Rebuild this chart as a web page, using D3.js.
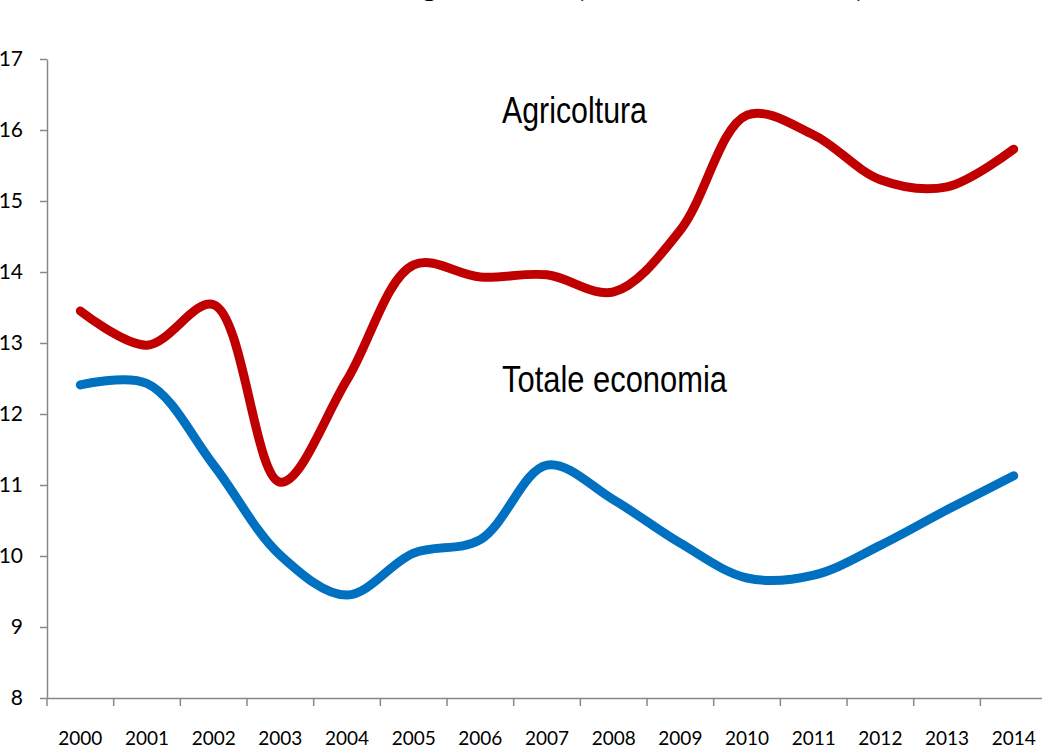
<!DOCTYPE html>
<html>
<head>
<meta charset="utf-8">
<script src="https://cdn.jsdelivr.net/npm/d3@7"></script>
<style>
  body { margin: 0; background: #fff; }
  svg { display: block; }
</style>
</head>
<body>
<div id="chart"></div>
<script>
var years = ["2000","2001","2002","2003","2004","2005","2006","2007","2008","2009","2010","2011","2012","2013","2014"];
var agricoltura = [13.45, 12.97, 13.54, 11.04, 12.48, 14.10, 13.93, 13.96, 13.72, 14.59, 16.21, 15.93, 15.30, 15.20, 15.73];
var totale = [12.41, 12.43, 11.28, 10.01, 9.45, 10.04, 10.23, 11.28, 10.79, 10.18, 9.69, 9.73, 10.15, 10.65, 11.13];
var yTicks = [8, 9, 10, 11, 12, 13, 14, 15, 16, 17];

var width = 1042, height = 750;
var margin = {top: 59, left: 47, bottom: 52};

var svg = d3.select("#chart").append("svg")
    .attr("width", width)
    .attr("height", height);

var x = d3.scaleBand()
    .domain(years)
    .range([margin.left, margin.left + 15 * 66.67]);

var y = d3.scaleLinear()
    .domain([8, 17])
    .range([height - margin.bottom, margin.top]);

// title (only its lower edge is inside the picture)
svg.append("text")
    .attr("x", 404)
    .attr("y", -4)
    .style("font-family", "Lato, sans-serif")
    .style("font-weight", "bold")
    .style("font-size", "32px")
    .style("letter-spacing", "1px")
    .text("agricoltura (valori % sul totale)");

// y axis
var yAxis = svg.append("g")
    .attr("transform", "translate(" + margin.left + ",0)")
    .call(d3.axisLeft(y).tickValues(yTicks).tickSize(7).tickPadding(17).tickSizeOuter(0));

yAxis.selectAll("text")
    .style("font-family", "Lato, sans-serif")
    .style("font-size", "21px")
    .attr("fill", "#000");

// x axis
var xAxis = svg.append("g")
    .attr("transform", "translate(0," + y(8) + ")")
    .call(d3.axisBottom(x).tickSize(0).tickSizeOuter(0));

xAxis.selectAll("text")
    .attr("y", 34)
    .style("font-family", "Lato, sans-serif")
    .style("font-size", "19px")
    .attr("fill", "#000");

// tick marks between categories
xAxis.selectAll(".sep")
    .data(years.concat(["end"]))
    .enter().append("line")
    .attr("class", "sep")
    .attr("x1", function(d, i) { return margin.left + i * x.step(); })
    .attr("x2", function(d, i) { return margin.left + i * x.step(); })
    .attr("y1", 0)
    .attr("y2", 8)
    .attr("stroke", "#888")
    .attr("stroke-width", 1.5);

svg.selectAll(".domain, .tick line")
    .attr("stroke", "#888")
    .attr("stroke-width", 1.5);

var line = d3.line()
    .x(function(d, i) { return x(years[i]) + x.bandwidth() / 2; })
    .y(function(d) { return y(d); })
    .curve(d3.curveCatmullRom.alpha(0.5));

svg.append("path")
    .datum(totale)
    .attr("d", line)
    .attr("fill", "none")
    .attr("stroke", "#0070C0")
    .attr("stroke-width", 9)
    .attr("stroke-linecap", "round")
    .attr("stroke-linejoin", "round");

svg.append("path")
    .datum(agricoltura)
    .attr("d", line)
    .attr("fill", "none")
    .attr("stroke", "#C00000")
    .attr("stroke-width", 9)
    .attr("stroke-linecap", "round")
    .attr("stroke-linejoin", "round");

// series labels (narrow face squeezed to the original widths)
svg.append("text")
    .attr("x", 502)
    .attr("y", 123)
    .attr("textLength", 145)
    .attr("lengthAdjust", "spacingAndGlyphs")
    .style("font-family", "'Liberation Sans', Arial, sans-serif")
    .style("font-size", "36px")
    .text("Agricoltura");

svg.append("text")
    .attr("x", 502)
    .attr("y", 392)
    .attr("textLength", 225)
    .attr("lengthAdjust", "spacingAndGlyphs")
    .style("font-family", "'Liberation Sans', Arial, sans-serif")
    .style("font-size", "36px")
    .text("Totale economia");
</script>
</body>
</html>
